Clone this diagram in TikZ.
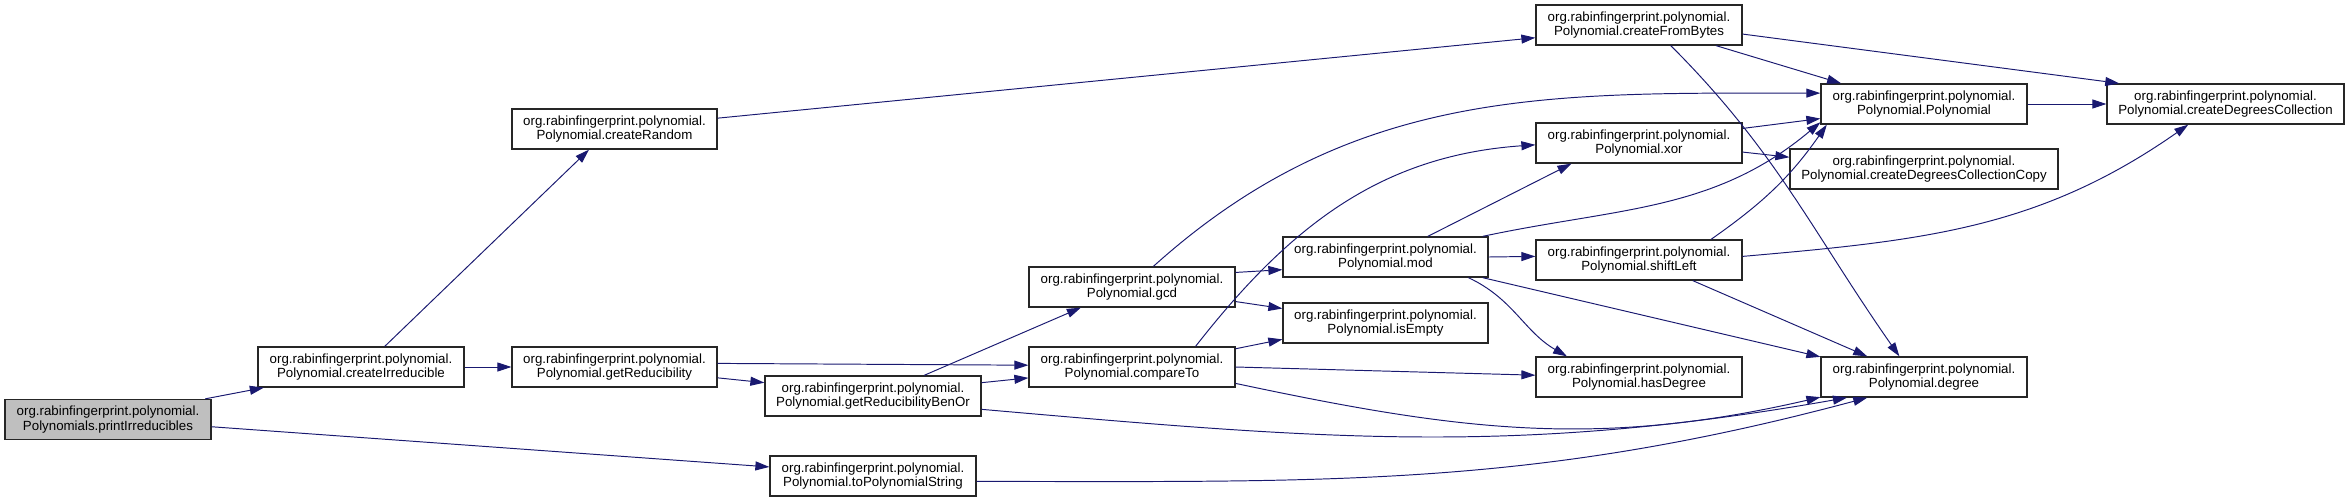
\documentclass[tikz,border=0pt]{standalone}
\usepackage{fontspec}
\setmainfont{Liberation Sans}
\usetikzlibrary{arrows.meta}
\definecolor{edgeblue}{RGB}{25,25,112}
\definecolor{boxgray}{RGB}{191,191,191}
\newcommand{\pkg}{org.rabinfingerprint.polynomial.}

\begin{document}
\begin{tikzpicture}[x=0.02cm,y=0.02cm,
    fn/.style={draw=black!85,line width=0.75pt,minimum height=0.8cm,inner sep=0pt,
      align=center,font=\fontsize{7.57}{8.15}\selectfont},
    call/.style={edgeblue,line width=0.55pt,-{Triangle[length=0.28cm,width=0.18cm]}}]
    \useasboundingbox (0,0) rectangle (2349,-501);
    % one box per method
    \foreach \n/\x/\y/\w/\c/\t in {
      pI/108/419.5/4.12/boxgray/Polynomials.printIrreducibles,
      cI/361/367/4.12/white/Polynomial.createIrreducible,
      gR/614.5/367/4.1/white/Polynomial.getReducibility,
      cR/614.5/129/4.1/white/Polynomial.createRandom,
      bO/873/396/4.32/white/Polynomial.getReducibilityBenOr,
      tS/873/476/4.12/white/Polynomial.toPolynomialString,
      gcd/1132/287/4.12/white/Polynomial.gcd,
      cT/1132/367/4.12/white/Polynomial.compareTo,
      mod/1385.5/257/4.1/white/Polynomial.mod,
      iE/1385.5/323/4.1/white/Polynomial.isEmpty,
      cFB/1639/25/4.12/white/Polynomial.createFromBytes,
      xor/1639/143/4.12/white/Polynomial.xor,
      sL/1639/260/4.12/white/Polynomial.shiftLeft,
      hD/1639/377/4.12/white/Polynomial.hasDegree,
      Poly/1924/104/4.12/white/Polynomial.Polynomial,
      cDCC/1924/169/5.36/white/Polynomial.createDegreesCollectionCopy,
      deg/1924/377/4.12/white/Polynomial.degree,
      cDC/2225.5/104/4.74/white/Polynomial.createDegreesCollection}
    {
      \node[fn,fill=\c,minimum width=\w cm] (\n) at (\x,-\y) {\pkg\\\t};
    }
    % straight calls
    \foreach \a/\b in {pI.12/cI.192, pI.-4/tS.175, cI.41/cR.219, cI.east/gR.west,
      cR.6/cFB.187, gR.2/cT.179, gR.-6/bO.173, bO.22/gcd.202, bO.7/cT.186,
      gcd.8/mod.187, gcd.-8/iE.172, cT.10/iE.189, cT.east/hD.179, mod.26/xor.197,
      mod.east/sL.178, mod.-12/deg.169, xor.8/Poly.188, xor.-5/cDCC.175,
      cFB.-15/Poly.166, cFB.-5/cDC.169, sL.-21/deg.160, Poly.east/cDC.west}
      \draw[call] (\a) -- (\b);
    % curved calls
    \draw[call] (bO.-7) to[out=-5,in=190] (deg.195);
    \draw[call] (cT.-9) to[out=-12,in=193] (deg.191);
    \draw[call] (tS.-3) to[out=0,in=195] (deg.200);
    \draw[call] (gcd.44) to[out=42,in=180] (Poly.174);
    \draw[call] (cT.18) to[out=52,in=184] (xor.181);
    \draw[call] (mod.-14) to[out=-25,in=150] (hD.164);
    \draw[call] (mod.12) to[out=12,in=220] (Poly.190);
    \draw[call] (sL.16) to[out=35,in=235] (Poly.192);
    \draw[call] (sL.2) to[out=5,in=215] (cDC.209);
    \draw[call] (cFB.-33) to[out=-45,in=125] (deg.140);
  \end{tikzpicture}
\end{document}
